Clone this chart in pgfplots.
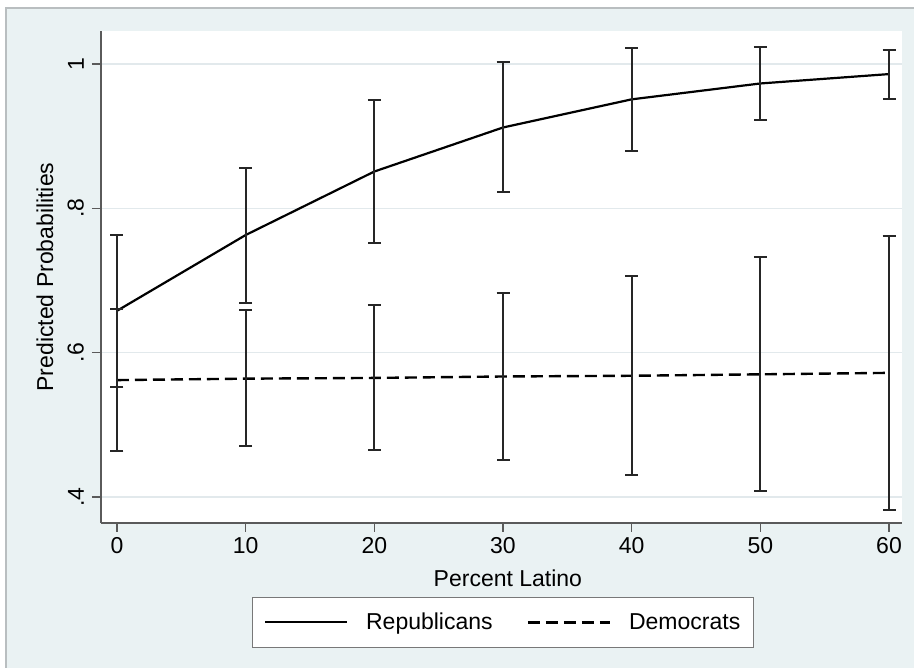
\documentclass[border=0pt]{standalone}
\usepackage{fontspec}
\setmainfont{Liberation Sans}
\usepackage{pgfplots}
\pgfplotsset{compat=1.18}
\usepackage{pgfplotstable}
\definecolor{bgcol}{RGB}{234,242,243}
\definecolor{gridcol}{RGB}{226,233,236}
\definecolor{bordercol}{RGB}{185,190,192}
\definecolor{axcol}{RGB}{90,90,90}
\definecolor{legcol}{RGB}{120,120,120}

\pgfplotstableread{
x y lo hi
0  0.658 0.552 0.763
10 0.763 0.669 0.856
20 0.851 0.752 0.950
30 0.912 0.822 1.003
40 0.951 0.880 1.022
50 0.973 0.923 1.024
60 0.986 0.952 1.020
}\rep

\pgfplotstableread{
x y lo hi
0  0.562 0.464 0.660
10 0.564 0.470 0.659
20 0.565 0.465 0.666
30 0.567 0.451 0.683
40 0.568 0.431 0.706
50 0.570 0.408 0.732
60 0.572 0.382 0.762
}\dem

\newcommand{\fs}{\fontsize{23bp}{27bp}\selectfont}

\begin{document}
\begin{tikzpicture}
\useasboundingbox (0,0) rectangle (914bp,668bp);
\fill[white] (0,0) rectangle (914bp,668bp);
\fill[bgcol] (6bp,0) rectangle (914bp,660bp);
\draw[bordercol, line width=1.2bp] (6bp,0) -- (6bp,660bp) -- (914bp,660bp);
\begin{axis}[
  at={(101bp,145bp)}, anchor=south west,
  scale only axis, width=801bp, height=492bp,
  xmin=-1.243, xmax=61.01, ymin=0.364, ymax=1.0457,
  axis background/.style={fill=white},
  axis x line*=bottom, axis y line*=left,
  axis line style={-, axcol, line width=1.3bp},
  tick align=outside, major tick length=9bp,
  tick style={axcol, line width=1.3bp},
  xtick={0,10,20,30,40,50,60},
  xticklabels={0,10,20,30,40,50,60},
  ytick={0.4,0.6,0.8,1},
  yticklabels={\rotatebox{90}{.4},\rotatebox{90}{.6},\rotatebox{90}{.8},\rotatebox{90}{1}},
  /pgf/number format/assume math mode=true,
  ymajorgrids, major grid style={gridcol, line width=1.3bp},
  tick label style={font=\fs},
  xticklabel style={inner sep=2bp, yshift=-3bp},
  yticklabel style={inner sep=8bp},
  xlabel={Percent Latino},
  ylabel={Predicted Probabilities},
  label style={font=\fs},
  xlabel style={at={(axis description cs:0.508,-0.112)}, anchor=center},
  ylabel style={at={(axis description cs:-0.070,0.5)}, anchor=center},
  legend columns=2,
  legend style={at={(axis description cs:0.502,-0.150)}, anchor=north,
    draw=legcol, line width=1bp, fill=white, font=\fs,
    inner xsep=11bp, inner ysep=14bp,
    /tikz/every even column/.append style={column sep=32bp}},
  legend image code/.code={\draw[#1] (0bp,0bp) -- (82bp,0bp); \path (98bp,0bp);},
  legend cell align=left,
]
\addplot[black, solid, line width=2.2bp, mark=none,
  error bars/.cd, y dir=both, y explicit, error mark=-,
  error bar style={solid, line width=2bp, black!85},
  error mark options={solid, rotate=90, line width=2bp, mark size=6.5bp, black!85}]
  table[x=x, y=y, y error plus expr=\thisrow{hi}-\thisrow{y}, y error minus expr=\thisrow{y}-\thisrow{lo}] {\rep};
\addlegendentry{Republicans}
\addplot[black, line width=2.4bp, dash pattern=on 12bp off 6bp, mark=none,
  error bars/.cd, y dir=both, y explicit, error mark=-,
  error bar style={solid, line width=2bp, black!85},
  error mark options={solid, rotate=90, line width=2bp, mark size=6.5bp, black!85}]
  table[x=x, y=y, y error plus expr=\thisrow{hi}-\thisrow{y}, y error minus expr=\thisrow{y}-\thisrow{lo}] {\dem};
\addlegendentry{Democrats}
\end{axis}
\end{tikzpicture}
\end{document}
